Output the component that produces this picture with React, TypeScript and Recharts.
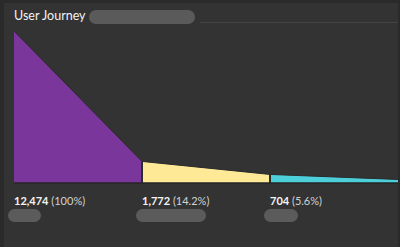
import { AreaChart, Area, XAxis, YAxis, ReferenceLine } from 'recharts'

// funnel stages, left to right (stage names are blurred out in the original)
const stageX = [0, 1, 2, 3]
const stageCounts = [12474, 1772, 704, 290]
const stagePercents = ['100%', '14.2%', '5.6%']
const segmentKeys = ['s0', 's1', 's2']
const segmentColors = ['#7b369c', '#fde996', '#4dcfda']

// each segment runs from one stage count to the next
const data = stageX.map((x, i) => {
  const row: Record<string, number> = { x }
  if (i > 0) row[segmentKeys[i - 1]] = stageCounts[i]
  if (i < segmentKeys.length) row[segmentKeys[i]] = stageCounts[i]
  return row
})

const blobWidths = [33, 70, 34]

const fmt = (n: number) => n.toLocaleString('en-US')

function StageTick(props: any) {
  const { x, y, payload, index } = props
  const i = payload?.value ?? index
  return (
    <g>
      <text x={x} y={y + 14} fontSize={11} fontFamily="Lato, sans-serif" textAnchor="start">
        <tspan fill="#f4f4f4" fontWeight={700}>{fmt(stageCounts[i])}</tspan>
        <tspan fill="#d2d2d2">{` (${stagePercents[i]})`}</tspan>
      </text>
      <rect x={x - 6} y={y + 18} width={blobWidths[i]} height={13} rx={6.5} fill="#5b5b5b" />
    </g>
  )
}

export default function App() {
  return (
    <div style={{ position: 'absolute', left: 0, top: 0, width: 400, height: 247, background: '#2a2a2a', overflow: 'hidden' }}>
      <div style={{ position: 'absolute', left: 4, top: 3, width: 394, height: 250, background: '#333333' }} />
      <div
        style={{
          position: 'absolute',
          left: 14,
          top: 7,
          fontFamily: 'Lato, sans-serif',
          fontSize: 12.5,
          color: '#f2f2f2',
          lineHeight: '18px',
        }}
      >
        User Journey
      </div>
      <div style={{ position: 'absolute', left: 89, top: 10, width: 106, height: 14, borderRadius: 7, background: '#5a5a5a' }} />
      <div style={{ position: 'absolute', left: 200, top: 22, width: 198, height: 1, background: '#444444' }} />
      <div style={{ position: 'absolute', left: 0, top: 0 }}>
        <AreaChart width={400} height={247} data={data} margin={{ top: 31, right: 2, bottom: 24, left: 14 }}>
          <XAxis
            dataKey="x"
            type="number"
            domain={[0, 3]}
            ticks={[0, 1, 2]}
            height={40}
            tickLine={false}
            axisLine={{ stroke: '#262626', strokeWidth: 1.5 }}
            tick={<StageTick />}
            interval={0}
          />
          <YAxis hide domain={[0, stageCounts[0]]} />
          {segmentKeys.map((k, i) => (
            <Area
              key={k}
              dataKey={k}
              type="linear"
              fill={segmentColors[i]}
              fillOpacity={1}
              stroke="#2a2a2a"
              strokeWidth={1}
              dot={false}
              activeDot={false}
              isAnimationActive={false}
            />
          ))}
          {[1, 2].map((sx) => (
            <ReferenceLine
              key={sx}
              segment={[{ x: sx, y: 0 }, { x: sx, y: stageCounts[sx] }]}
              stroke="#2b2b2b"
              strokeWidth={2}
            />
          ))}
        </AreaChart>
      </div>
    </div>
  )
}
